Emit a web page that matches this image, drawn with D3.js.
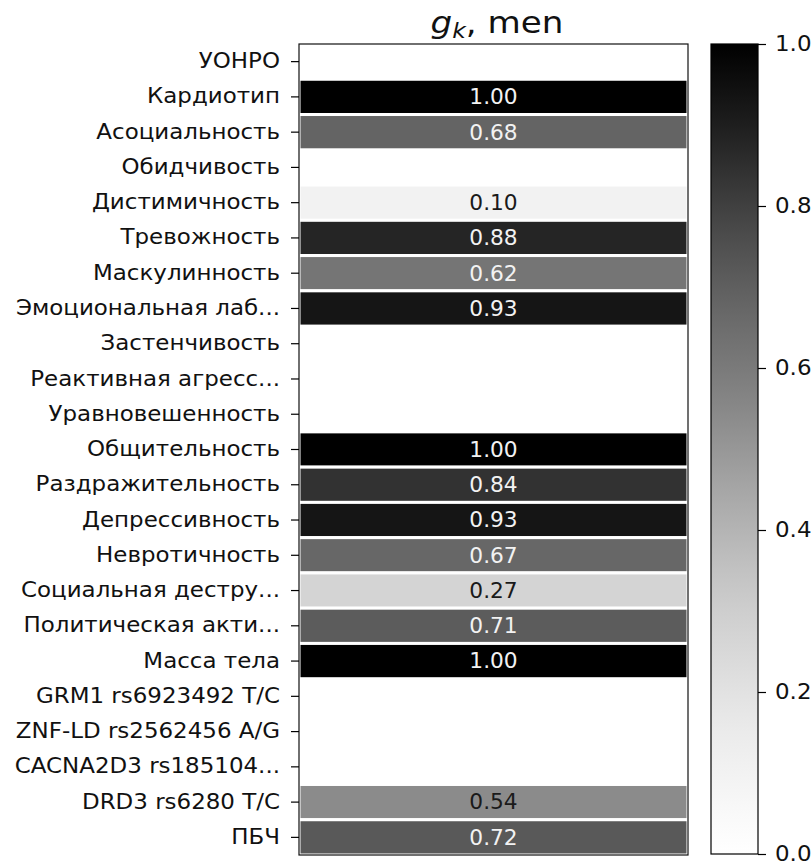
<!DOCTYPE html>
<html>
<head>
<meta charset="utf-8">
<script src="https://cdn.jsdelivr.net/npm/d3@7"></script>
<style>
  body { margin: 0; background: #fff; }
  text { font-family: "DejaVu Sans", sans-serif; }
</style>
</head>
<body>
<div id="chart"></div>
<script>
const labels = [
  "УОНРО", "Кардиотип", "Асоциальность", "Обидчивость", "Дистимичность",
  "Тревожность", "Маскулинность", "Эмоциональная лаб...", "Застенчивость",
  "Реактивная агресс...", "Уравновешенность", "Общительность",
  "Раздражительность", "Депрессивность", "Невротичность",
  "Социальная дестру...", "Политическая акти...", "Масса тела",
  "GRM1 rs6923492 T/C", "ZNF-LD rs2562456 A/G", "CACNA2D3 rs185104...",
  "DRD3 rs6280 T/C", "ПБЧ"
];
const values = [
  null, 1.00, 0.68, null, 0.10,
  0.88, 0.62, 0.93, null,
  null, null, 1.00,
  0.84, 0.93, 0.67,
  0.27, 0.71, 1.00,
  null, null, null,
  0.54, 0.72
];
const colorbarTicks = [0.0, 0.2, 0.4, 0.6, 0.8, 1.0];

const W = 812, H = 864;
const FONT = 20.5;
const SX = 1.12; // text in the source image is a bit wider than tall
const heat = { left: 299, right: 688, top: 44, bottom: 855 };
const cbar = { left: 711, right: 758, top: 44, bottom: 854 };

const svg = d3.select("#chart").append("svg")
  .attr("width", W)
  .attr("height", H);

const y = d3.scaleBand()
  .domain(labels)
  .range([heat.top, heat.bottom]);

const color = v => d3.interpolateGreys(v);

// heatmap cells
const rows = labels.map((name, i) => ({ name, value: values[i] }));

svg.append("g")
  .selectAll("rect")
  .data(rows.filter(d => d.value != null))
  .enter()
  .append("rect")
  .attr("x", heat.left)
  .attr("y", d => y(d.name))
  .attr("width", heat.right - heat.left)
  .attr("height", y.bandwidth())
  .attr("fill", d => color(d.value))
  .attr("stroke", "#fff")
  .attr("stroke-width", 3);

// annotations
svg.append("g")
  .selectAll("text")
  .data(rows.filter(d => d.value != null))
  .enter()
  .append("text")
  .attr("transform", d => `translate(${(heat.left + heat.right) / 2},${y(d.name) + y.bandwidth() / 2}) scale(1.06,1)`)
  .attr("dy", "0.36em")
  .attr("text-anchor", "middle")
  .attr("font-size", FONT)
  .attr("fill", d => d.value > 0.58 ? "#f2f2f2" : "#1a1a1a")
  .text(d => d.value.toFixed(2));

// frame
svg.append("rect")
  .attr("x", heat.left)
  .attr("y", heat.top)
  .attr("width", heat.right - heat.left)
  .attr("height", heat.bottom - heat.top)
  .attr("fill", "none")
  .attr("stroke", "#111")
  .attr("stroke-width", 1.2);

// y axis
const yPad = 11;
const yAxis = svg.append("g")
  .attr("transform", `translate(${heat.left},0)`)
  .call(d3.axisLeft(y).tickSize(8).tickPadding(yPad));
yAxis.select(".domain").remove();
yAxis.selectAll("text")
  .attr("x", 0)
  .attr("transform", `translate(${-8 - yPad},0) scale(${SX},1)`)
  .attr("font-size", FONT)
  .attr("fill", "#111")
  .style("font-family", "'DejaVu Sans', sans-serif");
yAxis.selectAll("line").attr("stroke", "#000").attr("stroke-width", 1.2);

// title
const title = svg.append("text")
  .attr("transform", `translate(497,33) scale(${SX},1)`)
  .attr("text-anchor", "middle")
  .attr("font-size", 30.5)
  .attr("fill", "#111");
title.append("tspan").attr("font-style", "italic").text("g");
title.append("tspan").attr("font-style", "italic").attr("font-size", 21).attr("dy", 5).text("k");
title.append("tspan").attr("dy", -5).text(", men");

// colorbar
const defs = svg.append("defs");
const grad = defs.append("linearGradient")
  .attr("id", "cbgrad")
  .attr("x1", 0).attr("y1", 1)
  .attr("x2", 0).attr("y2", 0);
d3.range(0, 1.0001, 0.05).forEach(t => {
  grad.append("stop")
    .attr("offset", t)
    .attr("stop-color", color(t));
});

svg.append("rect")
  .attr("x", cbar.left)
  .attr("y", cbar.top)
  .attr("width", cbar.right - cbar.left)
  .attr("height", cbar.bottom - cbar.top)
  .attr("fill", "url(#cbgrad)")
  .attr("stroke", "#000")
  .attr("stroke-width", 1.2);

const cy = d3.scaleLinear()
  .domain([0, 1])
  .range([cbar.bottom, cbar.top]);

const cPad = 9;
const cAxis = svg.append("g")
  .attr("transform", `translate(${cbar.right},0)`)
  .call(d3.axisRight(cy).tickValues(colorbarTicks).tickSize(8).tickPadding(cPad).tickFormat(d3.format(".1f")));
cAxis.select(".domain").remove();
cAxis.selectAll("text")
  .attr("x", 0)
  .attr("transform", `translate(${8 + cPad},0) scale(${SX},1)`)
  .attr("font-size", FONT)
  .attr("fill", "#111")
  .style("font-family", "'DejaVu Sans', sans-serif");
cAxis.selectAll("line").attr("stroke", "#000").attr("stroke-width", 1.2);
</script>
</body>
</html>
